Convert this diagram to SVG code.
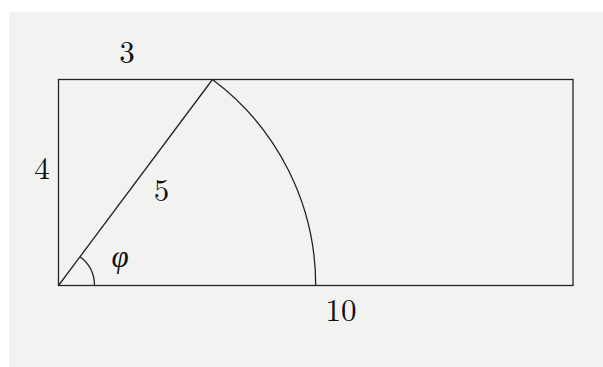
<svg xmlns="http://www.w3.org/2000/svg" width="603" height="367" viewBox="0 0 603 367">
<style>
.ln{fill:none;stroke:#222;stroke-width:1.3}
.t{font-family:"Latin Modern Roman","Liberation Serif",serif;font-size:31px;fill:#111;text-anchor:middle}
.i{font-style:italic}
</style>
<rect x="9" y="12" width="594" height="355" fill="#f2f3f1"/>
<g id="shapes">
<rect id="rect" class="ln" x="58.5" y="79.5" width="514.5" height="206"/>
<line id="hyp" class="ln" x1="58.5" y1="285.5" x2="212.5" y2="79.5"/>
<path id="bigarc" class="ln" d="M212.5,79.5 A257.2,257.2 0 0 1 315.7,285.5"/>
<path id="anglearc" class="ln" d="M94.5,285.5 A36,36 0 0 0 80.06,256.67"/>
</g>
<g id="labels">
<text class="t" x="127" y="63">3</text>
<text class="t" x="42" y="179">4</text>
<text class="t" x="161.5" y="201">5</text>
<text class="t" x="341" y="321">10</text>
<text class="t i" x="120" y="267">φ</text>
</g>
</svg>
